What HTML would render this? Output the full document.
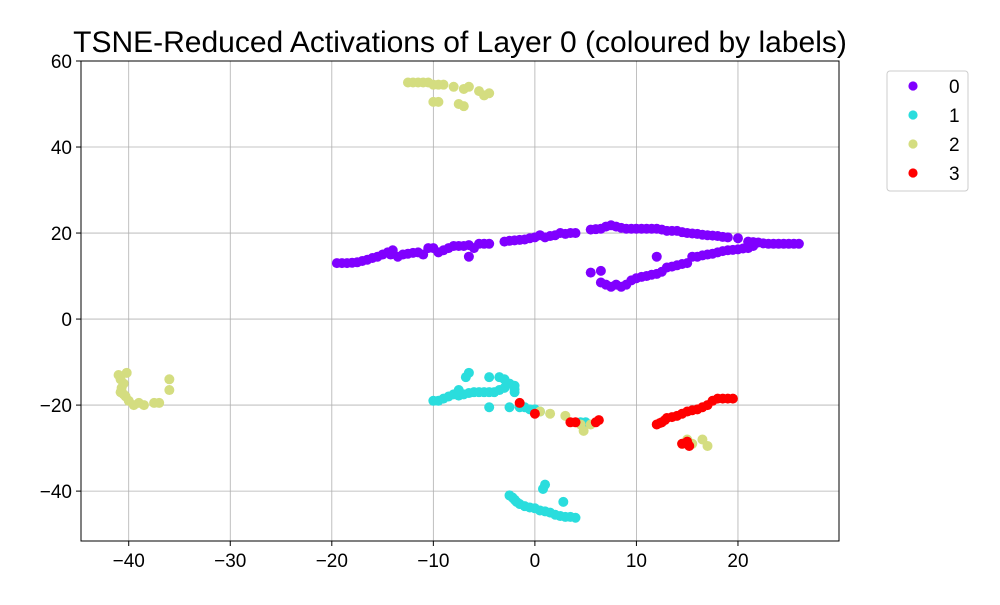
<!DOCTYPE html>
<html><head><meta charset="utf-8"><style>
body{margin:0;background:#fff;font-family:"Liberation Sans",sans-serif;}
svg text{font-family:"Liberation Sans",sans-serif;}
</style></head><body>
<svg id="chart" width="1000" height="600">
<rect width="1000" height="600" fill="#fff"/>
<text x="460" y="52" font-size="30" text-anchor="middle">TSNE-Reduced Activations of Layer 0 (coloured by labels)</text>
<g id="grid"></g><g id="pts"></g>
<rect x="81" y="61" width="758" height="480" fill="none" stroke="#000" stroke-width="1"/>
<g id="ticks"></g>
<g>
<rect x="887" y="71" width="81" height="120" rx="3" fill="#fff" stroke="#ccc"/>
</g>
<g id="legend"></g>
</svg>
<script>
const xTicks=[-40,-30,-20,-10,0,10,20];
const yTicks=[-40,-20,0,20,40,60];
const labels=["0","1","2","3"];
const colors=["#8000ff","#2adddd","#d4dd80","#ff0000"];
const cluster0=[[-19.5,13],[-19,13],[-18.5,13],[-18,13.1],[-17.5,13.2],[-17,13.5],[-16.5,13.8],[-16,14.2],[-15.5,14.5],[-15,15],[-14.5,15.5],[-14,16],[-14.2,15],[-13.5,14.5],[-13,15],[-12.5,15.2],[-12,15.4],[-11.5,15.5],[-11,15],[-10.5,16.5],[-10,16.5],[-9.5,15.5],[-9,16],[-8.5,16.5],[-8,17],[-7.5,17],[-7,17],[-6.5,17.2],[-6.5,14.5],[-6,16.5],[-5.5,17.5],[-5,17.5],[-4.5,17.5],[-3,18],[-2.5,18.2],[-2,18.3],[-1.5,18.4],[-1,18.5],[-0.5,18.8],[0,19],[0.5,19.5],[1,19],[1.5,19.3],[2,19.5],[2.5,20],[3,19.8],[3.5,20],[4,20],[5.5,20.8],[6,20.9],[6.5,21],[7,21.5],[7.5,21.8],[8,21.5],[8.5,21.2],[9,21],[9.5,21],[10,21],[10.5,21],[11,21],[11.5,21],[12,21],[12.5,20.8],[13,20.5],[13.5,20.5],[14,20.5],[14.5,20.2],[15,20],[15.5,19.9],[16,19.8],[16.5,19.6],[17,19.5],[17.5,19.4],[18,19.3],[18.5,19.1],[19,19],[20,18.8],[21,18],[21.5,17.9],[22,17.8],[22.5,17.6],[23,17.5],[23.5,17.5],[24,17.5],[24.5,17.5],[25,17.5],[25.5,17.5],[26,17.5],
[5.5,10.8],[6.5,11.2],[6.5,8.5],[7,8],[7.5,7.5],[8,8],[8.5,7.5],[9,8],[9.5,9],[10,9.5],[10.5,9.8],[11,10],[11.5,10.3],[12,10.5],[12.5,11],[12,14.5],[13,12],[13.5,12.2],[14,12.5],[14.5,12.8],[15,13],[15.5,14.5],[16,14.5],[16.5,14.8],[17,15],[17.5,15.2],[18,15.5],[18.5,15.8],[19,16],[19.5,16.1],[20,16.2],[20.5,16.4],[21,16.5],[21.5,17]];
const cluster1=[[-10,-19],[-9.5,-19],[-9,-18.5],[-8.5,-18],[-8,-17.5],[-7.5,-16.5],[-7.5,-17.8],[-7,-17.5],[-6.5,-12.5],[-6.8,-13.5],[-6.5,-17.2],[-6,-17],[-5.5,-17],[-5,-17],[-4.5,-13.5],[-4.5,-17],[-4,-17],[-3.5,-13.5],[-3.5,-16.5],[-3,-14],[-3,-16],[-2.5,-15],[-2,-15.5],[-2,-16.3],[-2,-17],[-4.5,-20.5],[-2.5,-20.5],[-1.5,-20.5],[-1,-20.5],[-0.5,-21],[0,-21],[0.5,-21.5],[4.5,-24],[5,-24],
[-2.5,-41],[-2.2,-41.5],[-2,-42],[-1.8,-42.5],[-1.5,-43],[-1,-43.5],[-0.5,-43.8],[0,-44],[0.5,-44.5],[1,-38.5],[0.8,-39.5],[1,-44.7],[1.5,-45],[2,-45.5],[2.5,-45.8],[3,-46],[3.5,-46],[4,-46.2],[2.8,-42.5]];
const cluster2=[[-12.5,55],[-12,55],[-11.5,55],[-11,55],[-10.5,55],[-10,54.5],[-9.5,54.5],[-9,54.5],[-8,54],[-7,53.5],[-6.5,54],[-5.5,53],[-5,52],[-4.5,52.5],[-10,50.5],[-9.5,50.5],[-7.5,50],[-7,49.5],
[-41,-13],[-40.8,-14],[-40.5,-15],[-40.7,-16],[-40.5,-17.5],[-40.3,-18],[-40.8,-17],[-40,-19],[-39.5,-20],[-39,-19.5],[-38.5,-20],[-37.5,-19.5],[-37,-19.5],[-36,-14],[-36,-16.5],[-40.2,-12.5],
[0.5,-21.5],[1.5,-22],[3,-22.5],[4.5,-24.5],[4.8,-26],[5.5,-24.5],[15,-28],[15.5,-29],[16.5,-28],[17,-29.5],[14.5,-29]];
const cluster3=[[-1.5,-19.5],[0,-22],[3.5,-24],[4,-24],[6,-24],[6.3,-23.5],[12,-24.5],[12.3,-24.2],[12.5,-24],[12.8,-23.5],[13,-23],[13.5,-22.8],[14,-22.5],[14.5,-22],[15,-21.5],[15.5,-21.2],[16,-21],[16.5,-20.5],[17,-20],[17.5,-19],[18,-18.5],[18.5,-18.5],[19,-18.5],[19.5,-18.5],[14.5,-29],[15,-28.5],[15.2,-29.5]];
const NS="http://www.w3.org/2000/svg";
const X0=81,X1=839,Y0=61,Y1=541,xmin=-44.7,xmax=29.95,ymin=-51.6,ymax=60;
function sx(v){return X0+(v-xmin)/(xmax-xmin)*(X1-X0);}
function sy(v){return Y1-(v-ymin)/(ymax-ymin)*(Y1-Y0);}
function mk(t,a,p){const e=document.createElementNS(NS,t);for(const k in a)e.setAttribute(k,a[k]);p.appendChild(e);return e;}
const grid=document.getElementById('grid'),ticks=document.getElementById('ticks'),pts=document.getElementById('pts'),leg=document.getElementById('legend');
xTicks.forEach(v=>{const x=sx(v);
const g=mk('line',{x1:x,x2:x,y1:Y0,y2:Y1,stroke:'#b0b0b0','stroke-width':0.8},grid);


mk('line',{x1:x,x2:x,y1:Y1,y2:Y1+5,stroke:'#000'},ticks);
const t=mk('text',{x:x,y:Y1+26,'font-size':19,'text-anchor':'middle'},ticks);t.textContent=(v<0?'\u2212'+(-v):v);

});
yTicks.forEach(v=>{const y=sy(v);
const g=mk('line',{x1:X0,x2:X1,y1:y,y2:y,stroke:'#b0b0b0','stroke-width':0.8},grid);


mk('line',{x1:X0-5,x2:X0,y1:y,y2:y,stroke:'#000'},ticks);
const t=mk('text',{x:X0-9,y:y+7,'font-size':19,'text-anchor':'end'},ticks);t.textContent=(v<0?'\u2212'+(-v):v);

});
[cluster0,cluster1,cluster2,cluster3].forEach((c,i)=>c.forEach(p=>{
const e=mk('circle',{cx:sx(p[0]),cy:sy(p[1]),r:5,fill:colors[i]},pts);

}));
labels.forEach((l,i)=>{const y=86+i*29;
const c=mk('circle',{cx:913,cy:y,r:4.6,fill:colors[i]},leg);


const t=mk('text',{x:949,y:y+7,'font-size':19},leg);t.textContent=l;

});
</script>
</body></html>
